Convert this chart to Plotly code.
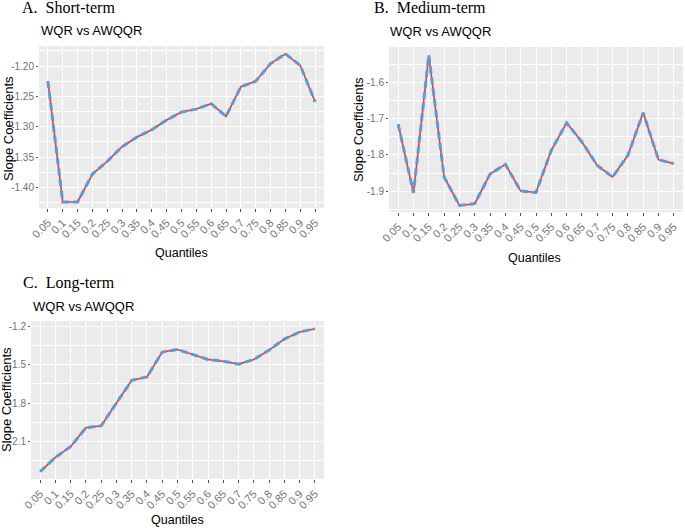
import plotly.graph_objects as go

quantiles = ["0.05", "0.1", "0.15", "0.2", "0.25", "0.3", "0.35", "0.4", "0.45", "0.5",
             "0.55", "0.6", "0.65", "0.7", "0.75", "0.8", "0.85", "0.9", "0.95"]

short_term = [-1.225, -1.424, -1.424, -1.378, -1.357, -1.333, -1.317, -1.305, -1.289, -1.276,
              -1.271, -1.262, -1.283, -1.234, -1.225, -1.196, -1.180, -1.199, -1.259]
medium_term = [-1.715, -1.905, -1.524, -1.861, -1.940, -1.935, -1.853, -1.826, -1.900, -1.904,
               -1.787, -1.711, -1.764, -1.829, -1.861, -1.801, -1.683, -1.813, -1.824]
long_term = [-2.335, -2.223, -2.139, -1.993, -1.977, -1.800, -1.623, -1.597, -1.403, -1.383,
             -1.419, -1.461, -1.474, -1.497, -1.461, -1.388, -1.302, -1.247, -1.221]

a_ticks = [-1.20, -1.25, -1.30, -1.35, -1.40]
a_ticktext = ["-1.20", "-1.25", "-1.30", "-1.35", "-1.40"]
b_ticks = [-1.6, -1.7, -1.8, -1.9]
b_ticktext = ["-1.6", "-1.7", "-1.8", "-1.9"]
c_ticks = [-1.2, -1.5, -1.8, -2.1]
c_ticktext = ["-1.2", "-1.5", "-1.8", "-2.1"]

panel_titles = ["A.  Short-term", "B.  Medium-term", "C.  Long-term"]
sub_title = "WQR vs AWQQR"
y_title = "Slope Coefficients"
x_title = "Quantiles"

W, H = 685, 530
RED = "#FF3030"
BLUE = "#5B9BD5"
SANS = "Liberation Sans, Arial, sans-serif"
SERIF = "Liberation Serif, Times New Roman, serif"

def px_x(v):
    return v / W

def px_y(v):
    return 1 - v / H

fig = go.Figure()

series = [short_term, medium_term, long_term]
for i, s in enumerate(series):
    ax = "" if i == 0 else str(i + 1)
    fig.add_trace(go.Scatter(x=quantiles, y=s, mode="lines",
                             line=dict(color=RED, width=1.6),
                             xaxis="x" + ax, yaxis="y" + ax, showlegend=False,
                             hoverinfo="skip"))
    fig.add_trace(go.Scatter(x=quantiles, y=s, mode="lines",
                             line=dict(color=BLUE, width=3, dash="7px,4px"),
                             xaxis="x" + ax, yaxis="y" + ax, showlegend=False,
                             hoverinfo="skip"))

panels = [
    dict(x0=39, x1=324, y0=46, y1=208, yr=[-1.434, -1.167], tv=a_ticks, tt=a_ticktext, minor=0.025),
    dict(x0=389, x1=683, y0=47, y1=212, yr=[-1.958, -1.501], tv=b_ticks, tt=b_ticktext, minor=0.05),
    dict(x0=31, x1=324, y0=321, y1=479, yr=[-2.392, -1.161], tv=c_ticks, tt=c_ticktext, minor=0.15),
]

layout = dict(
    width=W, height=H,
    margin=dict(l=0, r=0, t=0, b=0, autoexpand=False),
    paper_bgcolor="white",
    plot_bgcolor="#EBEBEB",
    showlegend=False,
)

for i, p in enumerate(panels):
    ax = "" if i == 0 else str(i + 1)
    xa = dict(
        domain=[px_x(p["x0"]), px_x(p["x1"])],
        anchor="y" + ax,
        type="category",
        range=[-0.6, 18.6],
        automargin=False,
        showgrid=True, gridcolor="white", gridwidth=1.1,
        zeroline=False, showline=False,
        ticks="outside", ticklen=3, tickcolor="#555", tickwidth=1,
        tickangle=-45,
        tickfont=dict(family=SANS, size=11, color="#6E7378"),
    )
    ya = dict(
        domain=[px_y(p["y1"]), px_y(p["y0"])],
        anchor="x" + ax,
        range=p["yr"],
        automargin=False,
        tickvals=p["tv"], ticktext=p["tt"],
        showgrid=True, gridcolor="white", gridwidth=1.1,
        zeroline=False, showline=False,
        ticks="outside", ticklen=2, tickcolor="#555", tickwidth=1,
        tickfont=dict(family=SANS, size=10, color="#6E7378"),
        minor=dict(tick0=p["tv"][0], dtick=p["minor"], showgrid=True,
                   gridcolor="white", gridwidth=0.5, ticks=""),
    )
    layout["xaxis" + ax] = xa
    layout["yaxis" + ax] = ya

fig.update_layout(**layout)

ann = []
for txt, x, y in [(panel_titles[0], 20, 8), (panel_titles[1], 372, 8), (panel_titles[2], 21, 283)]:
    ann.append(dict(text=txt, x=px_x(x), y=px_y(y), xref="paper", yref="paper",
                    xanchor="left", yanchor="middle", showarrow=False,
                    font=dict(family=SERIF, size=16, color="black")))
for x, y in [(39, 31), (388, 32), (31, 306)]:
    ann.append(dict(text=sub_title, x=px_x(x), y=px_y(y), xref="paper", yref="paper",
                    xanchor="left", yanchor="middle", showarrow=False,
                    font=dict(family=SANS, size=13, color="black")))
for x, y in [(8, 129), (359, 130), (6, 400)]:
    ann.append(dict(text=y_title, x=px_x(x), y=px_y(y), xref="paper", yref="paper",
                    xanchor="center", yanchor="middle", showarrow=False, textangle=-90,
                    font=dict(family=SANS, size=13, color="black")))
for x, y in [(181, 253), (534, 258), (177, 520)]:
    ann.append(dict(text=x_title, x=px_x(x), y=px_y(y), xref="paper", yref="paper",
                    xanchor="center", yanchor="middle", showarrow=False,
                    font=dict(family=SANS, size=12.5, color="black")))

fig.update_layout(annotations=ann)

fig.write_html("out.html", config={"displayModeBar": False},
               post_script="document.body.style.margin='0';document.body.style.overflow='hidden';")
